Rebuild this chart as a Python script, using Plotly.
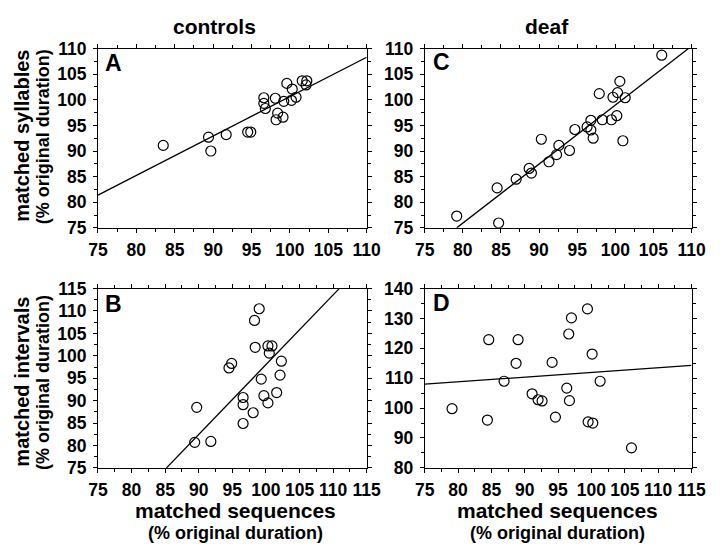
import plotly.graph_objects as go

# ---- data ----
# Panel A: controls, matched syllables vs matched sequences
a_x = [83.5, 89.4, 89.7, 91.7, 94.5, 94.9, 96.6, 96.6, 96.8, 98.1, 98.2, 98.4, 99.1, 99.2,
       99.6, 100.3, 100.2, 100.8, 101.6, 102.2, 102.1]
a_y = [91.1, 92.7, 90.0, 93.2, 93.7, 93.7, 100.4, 99.3, 98.3, 100.3, 96.1, 97.4, 96.6, 99.7,
       103.2, 102.1, 99.9, 100.5, 103.7, 103.7, 102.9]
a_fit_x = [75, 110]
a_fit_y = [81.4, 108.3]

# Panel C: deaf, matched syllables vs matched sequences
c_x = [79.2, 84.5, 84.7, 87.0, 88.7, 89.0, 90.3, 91.3, 92.3, 92.6, 94.0, 94.7, 96.3, 96.8,
       96.8, 97.1, 97.9, 98.3, 99.7, 99.5, 100.2, 100.3, 100.6, 101.0, 101.3, 106.1]
c_y = [77.3, 82.8, 75.95, 84.5, 86.6, 85.7, 92.3, 87.9, 89.3, 91.1, 90.1, 94.2, 94.7, 94.1,
       96.0, 92.5, 101.2, 96.1, 100.5, 96.1, 96.9, 101.4, 103.6, 92.0, 100.4, 108.7]
c_fit_x = [79.2, 109.6]
c_fit_y = [75, 110]

# Panel B: controls, matched intervals vs matched sequences
b_x = [89.4, 89.7, 91.8, 94.5, 94.9, 96.6, 96.6, 96.6, 98.1, 98.3, 98.4, 99.0, 99.3, 99.7,
       100.3, 100.3, 100.9, 100.5, 101.6, 102.1, 102.3]
b_y = [80.7, 88.5, 80.9, 97.3, 98.3, 90.7, 89.1, 84.9, 87.3, 107.9, 101.9, 110.5, 94.8, 91.1,
       89.5, 102.2, 102.2, 100.6, 91.8, 95.7, 98.8]
b_fit_x = [85.2, 110.9]
b_fit_y = [75, 115]

# Panel D: deaf, matched intervals vs matched sequences
d_x = [79.1, 84.4, 84.6, 86.9, 88.7, 89.0, 91.1, 92.0, 92.6, 94.1, 94.6, 96.3, 96.6, 96.7,
       97.0, 99.4, 99.5, 100.2, 100.1, 101.3, 106.0]
d_y = [99.8, 96.0, 122.9, 109.0, 115.0, 122.9, 104.8, 102.8, 102.4, 115.3, 97.0, 106.7, 124.8,
       102.5, 130.2, 133.2, 95.4, 95.0, 118.1, 109.0, 86.7]
d_fit_x = [75, 115]
d_fit_y = [108.0, 114.3]

col_titles = ["controls", "deaf"]
panel_letters = ["A", "C", "B", "D"]
y_titles = ["<b>matched syllables</b>", "<b>matched intervals</b>"]
sub_title = "(% original duration)"
x_title = "matched sequences"

# ---- layout geometry (paper fractions of a 720x555 page) ----
W, H = 720, 555
def px_x(p): return p / W
def px_y(p): return 1 - p / H

LX = [px_x(91), px_x(369)]
RX = [px_x(429), px_x(705)]
TY = [px_y(226), px_y(40)]
BY = [px_y(475), px_y(289)]

FONT = "Liberation Sans, Arial, sans-serif"

fig = go.Figure()

panels = [
    (a_x, a_y, a_fit_x, a_fit_y, "x", "y"),
    (c_x, c_y, c_fit_x, c_fit_y, "x2", "y2"),
    (b_x, b_y, b_fit_x, b_fit_y, "x3", "y3"),
    (d_x, d_y, d_fit_x, d_fit_y, "x4", "y4"),
]
for px, py, fx, fy, xa, ya in panels:
    fig.add_trace(go.Scatter(x=fx, y=fy, mode="lines", xaxis=xa, yaxis=ya,
                             line=dict(color="black", width=1.3), showlegend=False,
                             hoverinfo="skip"))
    fig.add_trace(go.Scatter(x=px, y=py, mode="markers", xaxis=xa, yaxis=ya,
                             marker=dict(symbol="circle-open", size=10, color="black",
                                         line=dict(width=1.2, color="black")),
                             showlegend=False))

TICKFONT = dict(family=FONT, size=17.5, color="black", weight="bold")

def xaxis(domain, anchor, rng, dtick):
    return dict(domain=domain, anchor=anchor, range=rng, dtick=dtick, tick0=75,
                showline=True, linecolor="black", linewidth=1, mirror="allticks",
                ticks="outside", ticklen=4, tickwidth=1, tickcolor="black",
                minor=dict(dtick=dtick / 2, ticks="outside", ticklen=3, tickcolor="black"),
                showgrid=False, zeroline=False, fixedrange=True,
                tickfont=TICKFONT, ticklabelstandoff=2)

def yaxis(domain, anchor, rng, dtick, minor):
    return dict(domain=domain, anchor=anchor, range=rng, dtick=dtick, tick0=rng[0],
                showline=True, linecolor="black", linewidth=1, mirror="allticks",
                ticks="outside", ticklen=4, tickwidth=1, tickcolor="black",
                minor=dict(dtick=minor, ticks="outside", ticklen=3, tickcolor="black"),
                showgrid=False, zeroline=False, fixedrange=True,
                tickfont=TICKFONT, ticklabelstandoff=3)

fig.update_layout(
    width=W, height=H, margin=dict(l=0, r=0, t=0, b=0),
    paper_bgcolor="white", plot_bgcolor="white",
    xaxis=xaxis(LX, "y", [75, 110], 5),
    yaxis=yaxis(TY, "x", [75, 110], 5, 2.5),
    xaxis2=xaxis(RX, "y2", [75, 110], 5),
    yaxis2=yaxis(TY, "x2", [75, 110], 5, 2.5),
    xaxis3=xaxis(LX, "y3", [75, 115], 5),
    yaxis3=yaxis(BY, "x3", [75, 115], 5, 2.5),
    xaxis4=xaxis(RX, "y4", [75, 115], 5),
    yaxis4=yaxis(BY, "x4", [80, 140], 10, 5),
)

ann = []
# column titles
for t, cx in zip(col_titles, [212, 556]):
    ann.append(dict(text="<b>%s</b>" % t, x=px_x(cx), y=px_y(17), xref="paper", yref="paper",
                    showarrow=False, xanchor="center", yanchor="middle",
                    font=dict(family=FONT, size=21, color="black")))
# panel letters
for letter, lx, ly in zip(panel_letters, [96, 435, 96, 435], [55, 54, 305, 304]):
    ann.append(dict(text="<b>%s</b>" % letter, x=px_x(lx), y=px_y(ly), xref="paper",
                    yref="paper", showarrow=False, xanchor="left", yanchor="middle",
                    font=dict(family=FONT, size=23, color="black")))
# x-axis titles
for cx in [233, 566]:
    ann.append(dict(text="<b>%s</b>" % x_title, x=px_x(cx), y=px_y(519), xref="paper",
                    yref="paper", showarrow=False, xanchor="center", yanchor="middle",
                    font=dict(family=FONT, size=21, color="black")))
    ann.append(dict(text="<b>%s</b>" % sub_title, x=px_x(cx), y=px_y(543), xref="paper",
                    yref="paper", showarrow=False, xanchor="center", yanchor="middle",
                    font=dict(family=FONT, size=18, color="black")))
# y-axis titles
for yt, cy in zip(y_titles, [131, 386]):
    ann.append(dict(text=yt, x=px_x(13), y=px_y(cy), xref="paper", yref="paper",
                    showarrow=False, xanchor="center", yanchor="middle", textangle=-90,
                    font=dict(family=FONT, size=20, color="black")))
    ann.append(dict(text="<b>%s</b>" % sub_title, x=px_x(34), y=px_y(cy), xref="paper",
                    yref="paper", showarrow=False, xanchor="center", yanchor="middle",
                    textangle=-90, font=dict(family=FONT, size=18, color="black")))
fig.update_layout(annotations=ann)

fig.write_html("out.html", post_script="document.body.style.margin='0px';",
               config={"displayModeBar": False})
